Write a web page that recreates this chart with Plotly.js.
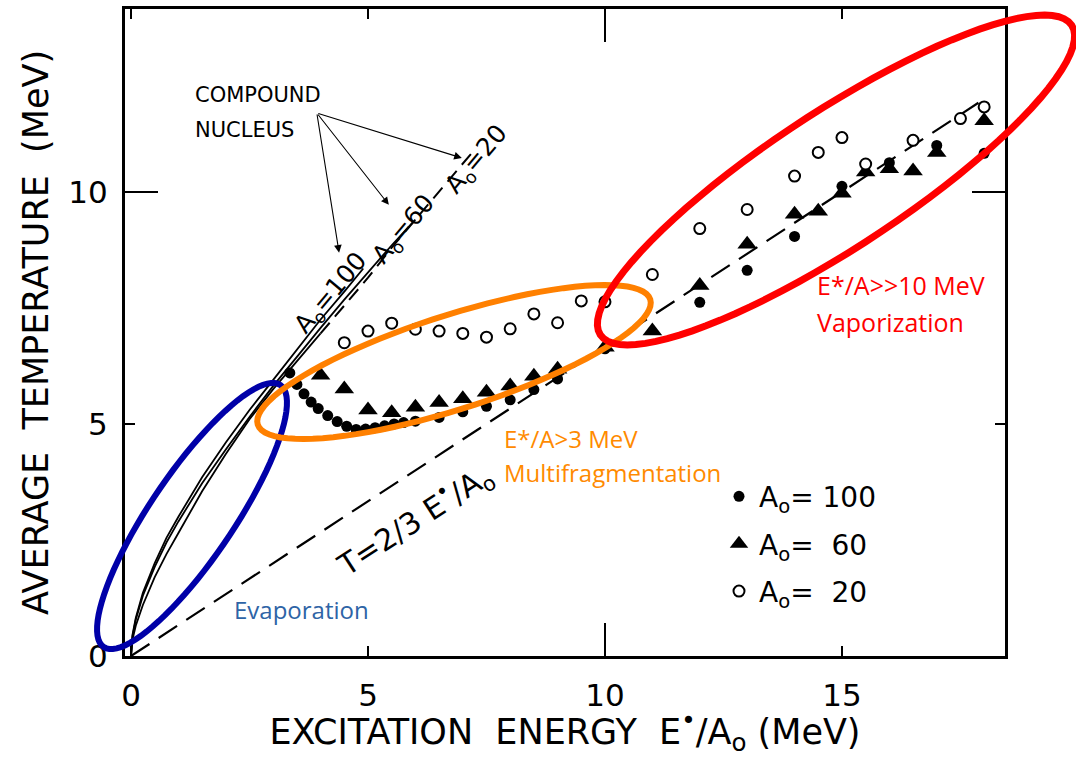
<!DOCTYPE html>
<html>
<head>
<meta charset="utf-8">
<script src="https://cdn.plot.ly/plotly-3.0.1.min.js"></script>
<style>html,body{margin:0;padding:0;background:#fff;}#chart{width:1076px;height:757px;}</style>
</head>
<body>
<div id="chart"></div>
<script>
// ---- data ----
const a100_x = [3.35, 3.5, 3.65, 3.8, 3.95, 4.15, 4.35, 4.55, 4.75, 4.95, 5.15, 5.35, 5.55, 5.75, 6.0, 6.5, 7.0, 7.5, 8.0, 8.5, 9.0, 10.0, 12.0, 13.0, 14.0, 15.0, 16.0, 17.0, 18.0];
const a100_y = [6.1, 5.85, 5.65, 5.47, 5.33, 5.18, 5.05, 4.95, 4.88, 4.89, 4.92, 4.96, 5.0, 5.03, 5.06, 5.14, 5.26, 5.38, 5.52, 5.74, 5.97, 6.62, 7.62, 8.31, 9.04, 10.12, 10.63, 11.0, 10.83];

const a60_x = [4.0, 4.5, 5.0, 5.5, 6.0, 6.5, 7.0, 7.5, 8.0, 8.5, 9.0, 10.0, 11.0, 12.0, 13.0, 14.0, 14.5, 15.0, 15.5, 16.0, 16.5, 17.0, 18.0];
const a60_y = [6.05, 5.75, 5.3, 5.24, 5.36, 5.46, 5.54, 5.68, 5.82, 6.03, 6.18, 6.65, 7.0, 7.98, 8.87, 9.52, 9.58, 9.97, 10.43, 10.5, 10.45, 10.85, 11.53];

const a20_x = [4.5, 5.0, 5.5, 6.0, 6.5, 7.0, 7.5, 8.0, 8.5, 9.0, 9.5, 10.0, 11.0, 12.0, 13.0, 14.0, 14.5, 15.0, 15.5, 16.5, 17.5, 18.0];
const a20_y = [6.75, 7.0, 7.17, 7.04, 7.0, 6.95, 6.87, 7.05, 7.37, 7.18, 7.65, 7.63, 8.22, 9.21, 9.62, 10.34, 10.85, 11.17, 10.6, 11.11, 11.58, 11.83];

// compound nucleus curves
const cn100_x = [0, 0.03, 0.1, 0.25, 0.5, 0.75, 1.0, 1.5, 2.0, 2.5, 3.0, 3.5, 4.0, 4.5, 4.9];
const cn100_y = [0, 0.45, 0.82, 1.36, 2.0, 2.55, 3.0, 3.85, 4.6, 5.3, 5.95, 6.6, 7.25, 7.85, 8.35];
const cn60_x = [0, 0.03, 0.1, 0.25, 0.5, 0.75, 1.0, 1.5, 2.0, 2.5, 3.0, 3.5, 4.0, 4.5, 5.0, 5.5, 6.0];
const cn60_y = [0, 0.42, 0.78, 1.3, 1.92, 2.45, 2.9, 3.72, 4.45, 5.15, 5.82, 6.45, 7.07, 7.68, 8.27, 8.85, 9.4];
const cn20s_x = [0, 0.03, 0.1, 0.25, 0.5, 0.75, 1.0, 1.5, 2.0, 2.5, 3.0, 3.5, 4.0];
const cn20s_y = [0, 0.35, 0.65, 1.1, 1.7, 2.2, 2.65, 3.55, 4.35, 5.1, 5.75, 6.35, 6.95];
const cn20d_x = [4.0, 4.5, 5.0, 5.5, 6.0, 6.5, 7.0, 7.2];
const cn20d_y = [6.95, 7.55, 8.15, 8.8, 9.4, 10.0, 10.6, 10.85];

// T = 2/3 E*/A0 reference line
const tline_x = [0, 18];
const tline_y = [0, 12];

const tickVals = [0, 5, 10, 15];
const legendNames = ['A<sub>o</sub>= 100', 'A<sub>o</sub>=  60', 'A<sub>o</sub>=  20'];

// ---- layout geometry (pixels) ----
const W = 1076, H = 757;
const M = {l: 125, r: 71, t: 9, b: 101};
const PW = W - M.l - M.r, PH = H - M.t - M.b;
const XR = [-0.127, 18.44], YR = [0, 13.94];

function ellipsePath(cx, cy, a, b, deg) {
  const th = deg * Math.PI / 180;
  let d = '';
  for (let i = 0; i <= 90; i++) {
    const t = 2 * Math.PI * i / 90;
    const px = cx + a * Math.cos(t) * Math.cos(th) + b * Math.sin(t) * Math.sin(th);
    const py = cy - a * Math.cos(t) * Math.sin(th) + b * Math.sin(t) * Math.cos(th);
    const xp = (px - M.l) / PW, yp = (H - M.b - py) / PH;
    d += (i === 0 ? 'M' : 'L') + xp.toFixed(5) + ',' + yp.toFixed(5);
  }
  return d + 'Z';
}

const lineStyle = {color: 'black', width: 1.8};
const traces = [
  {x: tline_x, y: tline_y, mode: 'lines', line: {color: 'black', width: 2.2, dash: '22px,11px'}, showlegend: false, hoverinfo: 'skip'},
  {x: cn100_x, y: cn100_y, mode: 'lines', line: lineStyle, showlegend: false, hoverinfo: 'skip'},
  {x: cn60_x, y: cn60_y, mode: 'lines', line: lineStyle, showlegend: false, hoverinfo: 'skip'},
  {x: cn20s_x, y: cn20s_y, mode: 'lines', line: lineStyle, showlegend: false, hoverinfo: 'skip'},
  {x: cn20d_x, y: cn20d_y, mode: 'lines', line: {color: 'black', width: 2, dash: '14px,8px'}, showlegend: false, hoverinfo: 'skip'},
  {x: a100_x, y: a100_y, mode: 'markers', name: legendNames[0], legendgroup: 'g1',
   marker: {symbol: 'circle', size: 11, color: 'black'}},
  {x: a60_x, y: a60_y, mode: 'markers', name: legendNames[1], legendgroup: 'g2',
   marker: {symbol: 'triangle-up', size: 17, color: 'black'}},
  {x: a20_x, y: a20_y, mode: 'markers', name: legendNames[2], legendgroup: 'g3',
   marker: {symbol: 'circle', size: 11, color: 'white', line: {color: 'black', width: 2}}},
  {x: [], y: [], xaxis: 'x2', yaxis: 'y2', mode: 'markers', showlegend: false, hoverinfo: 'skip'}
];

const fontLetter = 'DejaVu Sans, sans-serif';
const arrowTail = {ax: 3.92, ay: 11.70, axref: 'x', ayref: 'y'};
const layout = {
  width: W, height: H,
  margin: M,
  paper_bgcolor: 'white', plot_bgcolor: 'white',
  showlegend: true,
  legend: {x: 0.675, y: 0.285, xanchor: 'left', yanchor: 'top', traceorder: 'grouped', tracegroupgap: 8,
           itemwidth: 30, bgcolor: 'rgba(0,0,0,0)', font: {family: fontLetter, size: 28, color: 'black'}},
  xaxis: {range: XR, tickmode: 'array', tickvals: tickVals, ticks: 'inside', ticklen: 10, tickwidth: 2.5,
          tickcolor: 'black', showline: true, linewidth: 3, linecolor: 'black', mirror: 'ticks',
          showgrid: false, zeroline: false, ticklabelstandoff: 10,
          tickfont: {family: fontLetter, size: 31, color: 'black'},
          title: {text: 'EXCITATION  ENERGY  E<sup>•</sup>/A<sub>o</sub> (MeV)', standoff: 8,
                  font: {family: fontLetter, size: 35, color: 'black'}}},
  yaxis: {range: YR, tickmode: 'array', tickvals: tickVals, ticks: 'inside', ticklen: 10, tickwidth: 2.5,
          tickcolor: 'black', showline: true, linewidth: 3, linecolor: 'black', mirror: 'ticks',
          showgrid: false, zeroline: false, ticklabelstandoff: 8,
          tickfont: {family: fontLetter, size: 31, color: 'black'},
          title: {text: 'AVERAGE  TEMPERATURE  (MeV)', standoff: 10,
                  font: {family: fontLetter, size: 35, color: 'black'}}},
  xaxis2: {overlaying: 'x', anchor: 'y', range: XR, tickmode: 'array', tickvals: [10], ticks: 'inside',
           ticklen: 33, tickwidth: 2.5, tickcolor: 'black', showticklabels: false, showline: false,
           mirror: 'ticks', showgrid: false, zeroline: false},
  yaxis2: {overlaying: 'y', anchor: 'x', range: YR, tickmode: 'array', tickvals: [10], ticks: 'inside',
           ticklen: 33, tickwidth: 2.5, tickcolor: 'black', showticklabels: false, showline: false,
           mirror: 'ticks', showgrid: false, zeroline: false},
  shapes: [
    {type: 'path', xref: 'paper', yref: 'paper', path: ellipsePath(192, 516, 158, 42, 56), line: {color: '#0000a8', width: 6}},
    {type: 'path', xref: 'paper', yref: 'paper', path: ellipsePath(454, 362, 206, 47, 17.7), line: {color: '#ff8000', width: 6}},
    {type: 'path', xref: 'paper', yref: 'paper', path: ellipsePath(836, 180, 282, 68, 33.3), line: {color: '#ff0000', width: 7}}
  ],
  annotations: [
    {x: (193 - M.l) / PW, y: (H - M.b - 95) / PH, xref: 'paper', yref: 'paper', xanchor: 'left', yanchor: 'middle',
     text: 'COMPOUND', showarrow: false, font: {family: fontLetter, size: 21, color: 'black'}},
    {x: (193 - M.l) / PW, y: (H - M.b - 130) / PH, xref: 'paper', yref: 'paper', xanchor: 'left', yanchor: 'middle',
     text: 'NUCLEUS', showarrow: false, font: {family: fontLetter, size: 21, color: 'black'}},
    Object.assign({x: 4.39, y: 8.69, text: '', showarrow: true, arrowhead: 2, arrowsize: 1.4, arrowwidth: 1.1, arrowcolor: 'black'}, arrowTail),
    Object.assign({x: 5.44, y: 9.72, text: '', showarrow: true, arrowhead: 2, arrowsize: 1.4, arrowwidth: 1.1, arrowcolor: 'black'}, arrowTail),
    Object.assign({x: 6.98, y: 10.73, text: '', showarrow: true, arrowhead: 2, arrowsize: 1.4, arrowwidth: 1.1, arrowcolor: 'black'}, arrowTail),
    {x: 4.24, y: 7.82, text: 'A<sub>o</sub>=100', textangle: -50, showarrow: false, font: {family: fontLetter, size: 25, color: 'black'}},
    {x: 5.76, y: 9.18, text: 'A<sub>o</sub>=60', textangle: -50, showarrow: false, font: {family: fontLetter, size: 25, color: 'black'}},
    {x: 7.3, y: 10.68, text: 'A<sub>o</sub>=20', textangle: -50, showarrow: false, font: {family: fontLetter, size: 25, color: 'black'}},
    {x: 5.99, y: 2.93, text: 'T=2/3 E<sup>•</sup>/A<sub>o</sub>', textangle: -33, showarrow: false, font: {family: fontLetter, size: 30, color: 'black'}},
    {x: 14.43, y: 8.0, xanchor: 'left', text: 'E*/A>>10 MeV', showarrow: false, font: {family: 'Open Sans, sans-serif', size: 25, color: '#ff0000'}},
    {x: 14.43, y: 7.2, xanchor: 'left', text: 'Vaporization', showarrow: false, font: {family: 'Open Sans, sans-serif', size: 25, color: '#ff0000'}},
    {x: 7.83, y: 4.68, xanchor: 'left', text: 'E*/A>3 MeV', showarrow: false, font: {family: 'Open Sans, sans-serif', size: 24, color: '#ff8a00'}},
    {x: 7.83, y: 3.95, xanchor: 'left', text: 'Multifragmentation', showarrow: false, font: {family: 'Open Sans, sans-serif', size: 24, color: '#ff8a00'}},
    {x: 2.13, y: 1.01, xanchor: 'left', text: 'Evaporation', showarrow: false, font: {family: 'Open Sans, sans-serif', size: 24, color: '#2e64a6'}}
  ]
};

Plotly.newPlot('chart', traces, layout, {displayModeBar: false, staticPlot: true});
</script>
</body>
</html>
